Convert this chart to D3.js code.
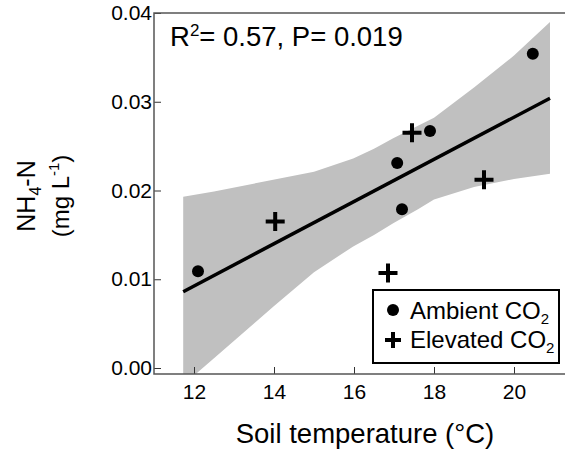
<!DOCTYPE html>
<html>
<head>
<meta charset="utf-8">
<script src="https://cdn.jsdelivr.net/npm/d3@7"></script>
<style>
  body { margin: 0; background: #fff; }
  text { font-family: "Liberation Sans", Arial, sans-serif; fill: #000; }
</style>
</head>
<body>
<div id="chart"></div>
<script>
// data
const ambientTemp = [12.1, 17.2, 17.08, 17.9, 20.47];
const ambientNH4  = [0.0109, 0.0179, 0.0231, 0.0267, 0.0354];
const elevatedTemp = [14.03, 17.45, 19.25, 16.85];
const elevatedNH4  = [0.0165, 0.0265, 0.0212, 0.0107];

// fitted line end points
const fitTemp = [11.73, 20.9];
const fitNH4  = [0.0086, 0.0304];

// confidence band outline
const bandTemp  = [11.73, 12.5, 13.98, 15.0, 15.98, 16.5, 16.98, 17.6, 18.0, 19.0, 20.0, 20.9];
const bandUpper = [0.0193, 0.0199, 0.0212, 0.0221, 0.0236, 0.0247, 0.0259, 0.0273, 0.0282, 0.0316, 0.0352, 0.0390];
const bandLower = [-0.0019, 0.0011, 0.0069, 0.0108, 0.0137, 0.0150, 0.0163, 0.0179, 0.0190, 0.0204, 0.0213, 0.0219];

const xTicks = [12, 14, 16, 18, 20];
const yTicks = [0, 0.01, 0.02, 0.03, 0.04];

const W = 565, H = 456;
const pLeft = 154, pRight = 565, pTop = 13, pBottom = 374;

const x = d3.scaleLinear().domain([11, 21.275]).range([pLeft, pRight]);
const y = d3.scaleLinear().domain([0, 0.04]).range([368, pTop]);

const svg = d3.select("#chart").append("svg")
  .attr("width", W).attr("height", H);

svg.append("defs").append("clipPath").attr("id", "plotclip")
  .append("rect")
  .attr("x", pLeft).attr("y", pTop)
  .attr("width", pRight - pLeft).attr("height", pBottom - pTop);

const plot = svg.append("g").attr("clip-path", "url(#plotclip)");

// band
const bandPts = bandTemp.map((t, i) => [x(t), y(bandUpper[i])])
  .concat(bandTemp.map((t, i) => [x(t), y(bandLower[i])]).reverse());
plot.append("path")
  .attr("d", d3.line()(bandPts) + "Z")
  .attr("fill", "#c0c0c0");

// fit line
plot.append("path")
  .attr("d", d3.line()(fitTemp.map((t, i) => [x(t), y(fitNH4[i])])))
  .attr("stroke", "#000").attr("stroke-width", 3.5).attr("fill", "none");

// axes
const xAxis = svg.append("g")
  .attr("transform", "translate(0," + pBottom + ")")
  .call(d3.axisBottom(x).tickValues(xTicks).tickSize(-7).tickPadding(10).tickFormat(d3.format("d")));
xAxis.select(".domain").remove();
xAxis.selectAll("line").attr("stroke", "#333");
xAxis.selectAll("text").style("font-size", "21px").attr("fill", "#000");

const yAxis = svg.append("g")
  .attr("transform", "translate(" + pLeft + ",0)")
  .call(d3.axisLeft(y).tickValues(yTicks).tickSize(-7).tickPadding(2).tickFormat(d3.format(".2f")));
yAxis.select(".domain").remove();
yAxis.selectAll("line").attr("stroke", "#333");
yAxis.selectAll("text").style("font-size", "21px").attr("fill", "#000");

// frame lines
svg.append("path")
  .attr("d", "M" + pRight + "," + pTop + "H" + pLeft + "V" + pBottom + "H" + pRight)
  .attr("fill", "none").attr("stroke", "#555").attr("stroke-width", 1.5);

// points
svg.append("g").selectAll("circle")
  .data(ambientTemp).enter()
  .append("circle")
  .attr("cx", (d) => x(d))
  .attr("cy", (d, i) => y(ambientNH4[i]))
  .attr("r", 6)
  .attr("fill", "#000");

const plus = (cx, cy, s) => "M" + (cx - s) + "," + cy + "H" + (cx + s) + "M" + cx + "," + (cy - s) + "V" + (cy + s);

svg.append("g").selectAll("path")
  .data(elevatedTemp).enter()
  .append("path")
  .attr("d", (d, i) => plus(x(d), y(elevatedNH4[i]), 9.5))
  .attr("stroke", "#000").attr("stroke-width", 4);

// stats text
const stat = svg.append("text").attr("x", 170).attr("y", 46).style("font-size", "27.5px");
stat.append("tspan").text("R");
stat.append("tspan").attr("dy", -10).style("font-size", "17px").text("2");
stat.append("tspan").attr("dy", 10).text("= 0.57, P= 0.019");

// legend
svg.append("rect")
  .attr("x", 373).attr("y", 290).attr("width", 186).attr("height", 73)
  .attr("fill", "#fff").attr("stroke", "#000").attr("stroke-width", 2);
svg.append("circle").attr("cx", 393).attr("cy", 310).attr("r", 6).attr("fill", "#000");
svg.append("path").attr("d", plus(393, 340, 8)).attr("stroke", "#000").attr("stroke-width", 4);

const leg1 = svg.append("text").attr("x", 410).attr("y", 319).style("font-size", "24px");
leg1.append("tspan").text("Ambient CO");
leg1.append("tspan").attr("dy", 5).style("font-size", "15px").text("2");
const leg2 = svg.append("text").attr("x", 410).attr("y", 348).style("font-size", "24px");
leg2.append("tspan").text("Elevated CO");
leg2.append("tspan").attr("dy", 5).style("font-size", "15px").text("2");

// axis titles
svg.append("text")
  .attr("x", 365).attr("y", 443)
  .attr("text-anchor", "middle")
  .style("font-size", "27.5px")
  .text("Soil temperature (°C)");

const yt = svg.append("g").attr("transform", "translate(35,196) rotate(-90)");
const t1 = yt.append("text").attr("text-anchor", "middle").style("font-size", "25px");
t1.append("tspan").text("NH");
t1.append("tspan").attr("dy", 6).style("font-size", "16px").text("4");
t1.append("tspan").attr("dy", -6).text("-N");
const t2 = yt.append("text").attr("y", 34).attr("text-anchor", "middle").style("font-size", "24px");
t2.append("tspan").text("(mg L");
t2.append("tspan").attr("dy", -10).style("font-size", "15px").text("-1");
t2.append("tspan").attr("dy", 10).text(")");
</script>
</body>
</html>
